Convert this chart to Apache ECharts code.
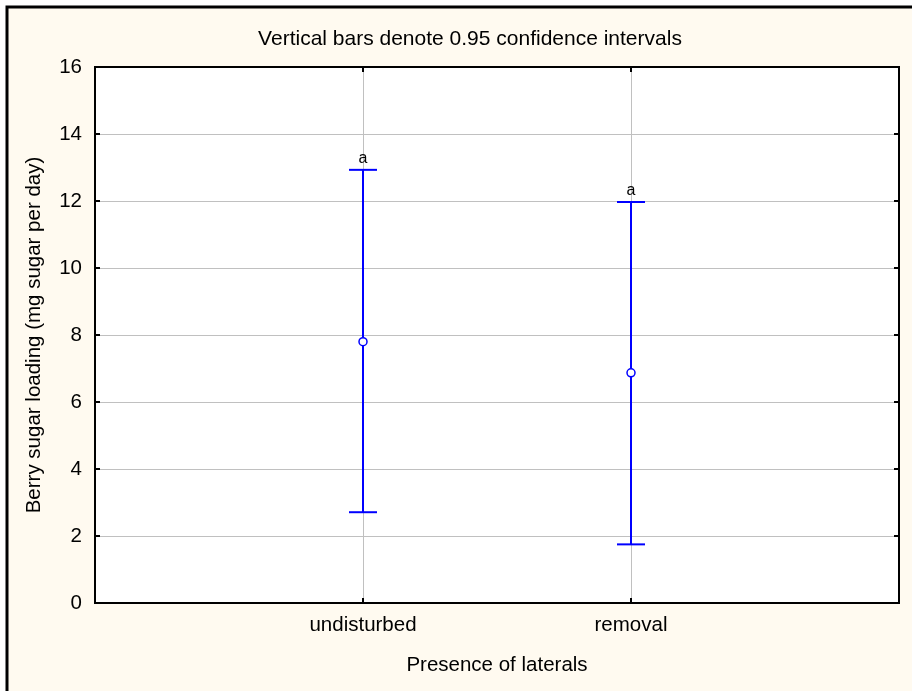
<!DOCTYPE html>
<html>
<head>
<meta charset="utf-8">
<script src="https://cdn.jsdelivr.net/npm/echarts@6/dist/echarts.min.js"></script>
<style>
html,body{margin:0;padding:0;background:#ffffff;}
#chart{width:912px;height:691px;}
</style>
</head>
<body>
<div id="chart"></div>
<script>
// ---- data ----
const categories = ['undisturbed', 'removal'];
const means = [7.80, 6.87];
const lower = [2.71, 1.75];
const upper = [12.93, 11.97];
const letters = ['a', 'a'];
const yTicks = [0, 2, 4, 6, 8, 10, 12, 14, 16];
const titleText = 'Vertical bars denote 0.95 confidence intervals';
const xName = 'Presence of laterals';
const yName = 'Berry sugar loading (mg sugar per day)';

const FONT = '"Liberation Sans", Arial, sans-serif';
const BLUE = '#0000ff';
const TICK = {show: true, inside: true, length: 5, lineStyle: {color: '#000', width: 2}};
const LINE = {show: true, onZero: false, lineStyle: {color: '#000', width: 2}};

const errData = categories.map((c, i) => [i + 1, lower[i], upper[i], letters[i]]);
const meanData = categories.map((c, i) => [i + 1, means[i]]);

const chart = echarts.init(document.getElementById('chart'), null, {renderer: 'canvas'});

const option = {
  backgroundColor: '#ffffff',
  animation: false,
  graphic: [{
    type: 'rect', z: -10, silent: true,
    shape: {x: 7, y: 7, width: 920, height: 700},
    style: {fill: '#fffaf0', stroke: '#000000', lineWidth: 3}
  }],
  title: {
    text: titleText,
    left: 465, top: 24, textAlign: 'center',
    textStyle: {fontFamily: FONT, fontSize: 21, fontWeight: 'normal', color: '#000'}
  },
  grid: {
    left: 95, top: 67, width: 804, height: 536,
    show: true, backgroundColor: '#ffffff', borderColor: '#000', borderWidth: 2
  },
  xAxis: [{
    type: 'value', min: 0, max: 3, interval: 1, position: 'bottom',
    name: xName, nameLocation: 'middle', nameGap: 52,
    nameTextStyle: {fontFamily: FONT, fontSize: 20.5, color: '#000'},
    axisLine: LINE,
    axisTick: Object.assign({}, TICK, {customValues: [1, 2]}),
    axisLabel: {
      fontFamily: FONT, fontSize: 20.5, color: '#000', margin: 12,
      customValues: [1, 2],
      formatter: v => categories[v - 1] || ''
    },
    splitLine: {show: true, lineStyle: {color: '#c0c0c0', width: 1}}
  }, {
    type: 'value', min: 0, max: 3, interval: 1, position: 'top',
    axisLine: LINE,
    axisTick: Object.assign({}, TICK, {customValues: [1, 2]}),
    axisLabel: {show: false},
    splitLine: {show: false}
  }],
  yAxis: [{
    type: 'value', min: yTicks[0], max: yTicks[yTicks.length - 1], interval: yTicks[1] - yTicks[0],
    position: 'left',
    name: yName, nameLocation: 'middle', nameGap: 50, nameRotate: 90,
    nameTextStyle: {fontFamily: FONT, fontSize: 20.5, color: '#000'},
    axisLine: LINE,
    axisTick: TICK,
    axisLabel: {fontFamily: FONT, fontSize: 20.5, color: '#000', margin: 13},
    splitLine: {show: true, lineStyle: {color: '#c0c0c0', width: 1}}
  }, {
    type: 'value', min: yTicks[0], max: yTicks[yTicks.length - 1], interval: yTicks[1] - yTicks[0],
    position: 'right',
    axisLine: LINE,
    axisTick: TICK,
    axisLabel: {show: false},
    splitLine: {show: false}
  }],
  series: [{
    type: 'custom',
    xAxisIndex: 0, yAxisIndex: 0,
    data: errData,
    z: 5,
    renderItem: function (params, api) {
      const x = api.value(0);
      const lo = api.coord([x, api.value(1)]);
      const hi = api.coord([x, api.value(2)]);
      const hw = 14;
      const style = {stroke: BLUE, lineWidth: 2, fill: null};
      return {
        type: 'group',
        children: [
          {type: 'line', shape: {x1: hi[0], y1: hi[1], x2: lo[0], y2: lo[1]}, style: style},
          {type: 'line', shape: {x1: hi[0] - hw, y1: hi[1], x2: hi[0] + hw, y2: hi[1]}, style: style},
          {type: 'line', shape: {x1: lo[0] - hw, y1: lo[1], x2: lo[0] + hw, y2: lo[1]}, style: style},
          {type: 'text', style: {
            x: hi[0], y: hi[1] - 3, text: api.value(3),
            textAlign: 'center', textVerticalAlign: 'bottom',
            fontFamily: FONT, fontSize: 16, fill: '#000'
          }}
        ]
      };
    }
  }, {
    type: 'scatter',
    xAxisIndex: 0, yAxisIndex: 0,
    data: meanData,
    z: 10,
    symbol: 'circle', symbolSize: 8,
    itemStyle: {color: '#ffffff', borderColor: BLUE, borderWidth: 1.5, opacity: 1}
  }]
};
chart.setOption(option);
</script>
</body>
</html>
